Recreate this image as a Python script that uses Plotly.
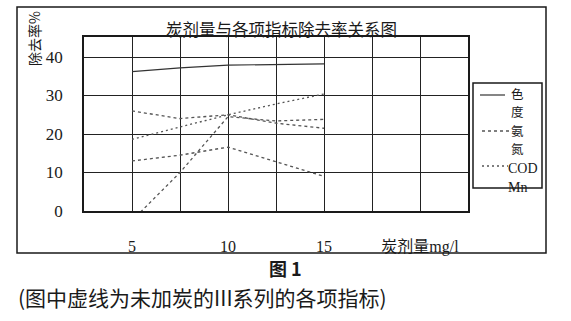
import plotly.graph_objects as go

# carbon dose (mg/l) and removal rates (%)
dose = [5, 7.5, 10, 12.5, 15]
chroma = [36.2, 37.2, 37.9, 38.0, 38.2]        # 色度
ammonia = [26.0, 24.0, 25.0, 22.8, 21.5]       # 氨氮
cod = [18.6, 21.8, 25.0, 27.8, 30.4]           # COD
mn = [13.0, 14.5, 16.6, 12.8, 9.0]             # Mn
no_carbon = [-2.5, 10.0, 24.5, 23.4, 23.8]     # III series, no carbon

x_ticks = [2.5, 5, 7.5, 10, 12.5, 15, 17.5, 20, 22.5]
x_text = ["", "5", "", "10", "", "15", "", "炭剂量mg/l", ""]
y_ticks = [0, 10, 20, 30, 40]

title = "炭剂量与各项指标除去率关系图"
y_title = "除去率%"
legend_chars = ["色", "度", "氨", "氮"]
fig_label = "图 1"
note = "(图中虚线为未加炭的III系列的各项指标)"

W, H = 571, 321
L, R, T, B = 84, 468, 37, 211   # plot area in pixels


def px(x):
    return (x - L) / (R - L)


def py(y):
    return (B - y) / (B - T)


SERIF = "Liberation Serif, Noto Sans CJK SC"
CJK = "Noto Sans CJK SC"
INK = "#1a1a1a"

fig = go.Figure()
fig.add_trace(go.Scatter(x=dose, y=chroma, mode="lines", name="色度",
                         line=dict(color="#333", width=1.2)))
fig.add_trace(go.Scatter(x=dose, y=ammonia, mode="lines", name="氨氮",
                         line=dict(color="#555", width=1.3, dash="dot")))
fig.add_trace(go.Scatter(x=dose, y=cod, mode="lines", name="COD",
                         line=dict(color="#555", width=1.3, dash="2px,3px")))
fig.add_trace(go.Scatter(x=dose, y=mn, mode="lines", name="Mn",
                         line=dict(color="#555", width=1.3, dash="dot")))
fig.add_trace(go.Scatter(x=dose, y=no_carbon, mode="lines", name="III",
                         line=dict(color="#555", width=1.3, dash="3px,3px")))

shapes = [
    # outer chart frame
    dict(type="rect", xref="paper", yref="paper",
         x0=px(17), x1=px(546), y0=py(253), y1=py(7),
         line=dict(color=INK, width=1.5)),
    # legend frame
    dict(type="rect", xref="paper", yref="paper",
         x0=px(473), x1=px(542), y0=py(188), y1=py(83),
         line=dict(color=INK, width=1.5)),
    # legend samples
    dict(type="line", xref="paper", yref="paper",
         x0=px(480), x1=px(505), y0=py(95), y1=py(95),
         line=dict(color="#333", width=1.2)),
    dict(type="line", xref="paper", yref="paper",
         x0=px(482), x1=px(510), y0=py(131), y1=py(131),
         line=dict(color="#555", width=1.3, dash="dot")),
    dict(type="line", xref="paper", yref="paper",
         x0=px(482), x1=px(508), y0=py(166), y1=py(166),
         line=dict(color="#555", width=1.3, dash="2px,3px")),
]

annotations = [
    dict(text=title, x=px(281), y=py(29), font=dict(family=CJK, size=16.5, color=INK)),
    dict(text=y_title, x=px(34), y=py(39), textangle=-90,
         font=dict(family=CJK, size=14, color=INK)),
    dict(text="COD", x=px(523), y=py(168), font=dict(family=SERIF, size=14, color=INK)),
    dict(text="Mn", x=px(517), y=py(187), font=dict(family=SERIF, size=14, color=INK)),
    dict(text="<b>" + fig_label + "</b>", x=px(285), y=py(268),
         font=dict(family=CJK, size=18, color=INK)),
    dict(text=note, x=px(16), y=py(297), xanchor="left",
         font=dict(family=CJK, size=21, color=INK)),
]
for i, ch in enumerate(legend_chars):
    annotations.append(dict(text=ch, x=px(517), y=py(93 + 18.5 * i),
                            font=dict(family=CJK, size=12.5, color=INK)))
for a in annotations:
    a.setdefault("xref", "paper")
    a.setdefault("yref", "paper")
    a.setdefault("xanchor", "center")
    a.setdefault("yanchor", "middle")
    a["showarrow"] = False

fig.update_layout(
    width=W, height=H, autosize=False,
    margin=dict(l=L, r=W - R, t=T, b=H - B, pad=0),
    paper_bgcolor="white", plot_bgcolor="white",
    showlegend=False,
    shapes=shapes, annotations=annotations,
    xaxis=dict(range=[2.5, 22.5], tickvals=x_ticks, ticktext=x_text,
               showgrid=True, gridcolor="#222", gridwidth=1.3,
               showline=True, linecolor=INK, linewidth=2, mirror=True,
               ticks="", ticklabelstandoff=20, zeroline=False,
               tickfont=dict(family=SERIF, size=16, color=INK)),
    yaxis=dict(range=[0, 45.2], tickvals=y_ticks,
               showgrid=True, gridcolor="#222", gridwidth=1.3,
               showline=True, linecolor=INK, linewidth=1.5, mirror=True,
               ticks="", ticklabelstandoff=16, zeroline=False,
               tickfont=dict(family=SERIF, size=17, color=INK)),
)

fig.write_html("out.html")
